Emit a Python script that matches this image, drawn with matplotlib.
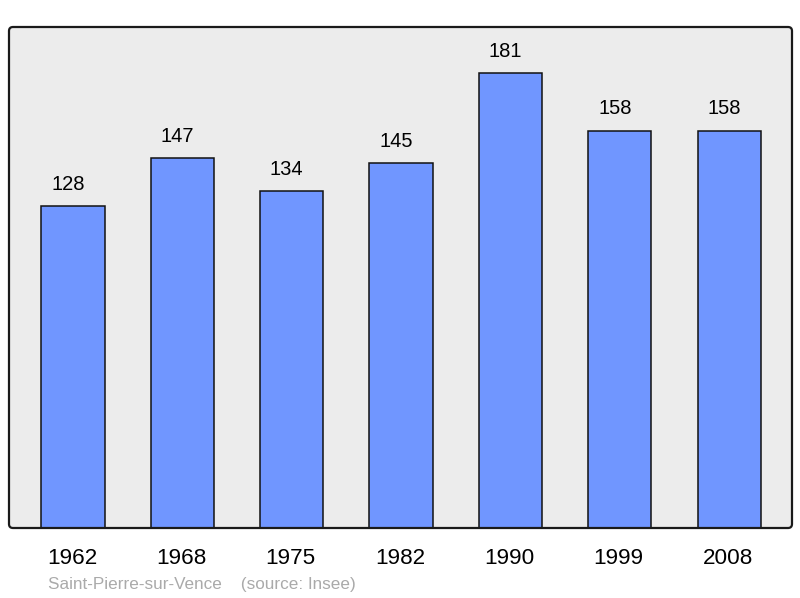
import matplotlib.pyplot as plt
import matplotlib.patches as patches

plt.rcParams['font.family'] = ['Liberation Sans', 'DejaVu Sans']

# données
annees = ['1962', '1968', '1975', '1982', '1990', '1999', '2008']
population = [128, 147, 134, 145, 181, 158, 158]

W, H = 800, 598
fig = plt.figure(figsize=(W / 100, H / 100), dpi=100, facecolor='white')

# axe: x 9..792 px, y 27..528 px
ax_l, ax_r, ax_t, ax_b = 9, 792, 27, 528
ax = fig.add_axes([ax_l / W, 1 - ax_b / H, (ax_r - ax_l) / W, (ax_b - ax_t) / H])
ax.set_facecolor('none')
for s in ax.spines.values():
    s.set_visible(False)
ax.set_xticks([])
ax.set_yticks([])

x = list(range(len(annees)))
ax.set_xlim(-0.585, 6.575)
ax.set_ylim(0, 199.3)

aspect = (ax_r - ax_l) / (ax_b - ax_t)
r = 4 / (ax_r - ax_l)
fond = patches.FancyBboxPatch((0, 0), 1, 1, boxstyle=patches.BoxStyle('Round', pad=0, rounding_size=r),
                              mutation_aspect=aspect, transform=ax.transAxes,
                              facecolor='#ececec', edgecolor='none', zorder=0, clip_on=False)
ax.add_patch(fond)
cadre = patches.FancyBboxPatch((0, 0), 1, 1, boxstyle=patches.BoxStyle('Round', pad=0, rounding_size=r),
                               mutation_aspect=aspect, transform=ax.transAxes,
                               facecolor='none', edgecolor='#1a1a1a', linewidth=1.6, zorder=5, clip_on=False)
ax.add_patch(cadre)

ax.bar(x, population, width=0.577, color='#7096ff', edgecolor='#111111', linewidth=1.1, zorder=2)

# valeurs au-dessus des barres (légèrement décalées à gauche comme l'original)
for xi, v in zip(x, population):
    ax.annotate(str(v), (xi, v), xytext=(-5, 22), textcoords='offset pixels',
                ha='center', va='center', fontsize=14.5, color='black')

for xi, a in zip(x, annees):
    ax.annotate(a, (xi, 0), xytext=(-1, -30), textcoords='offset pixels',
                ha='center', va='center', fontsize=16.2, color='black', annotation_clip=False)

fig.text(48 / W, 1 - 584 / H, 'Saint-Pierre-sur-Vence    (source: Insee)',
         ha='left', va='center', fontsize=12.3, color='#aaaaaa')

fig.savefig('out.png', dpi=100)
